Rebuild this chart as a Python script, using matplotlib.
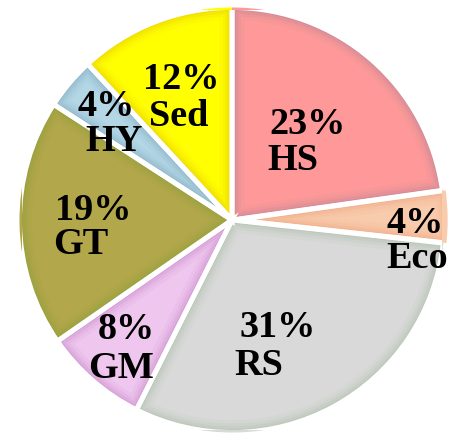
import matplotlib
matplotlib.use("Agg")
import matplotlib.pyplot as plt
from matplotlib.patches import Wedge

categories = ["HS", "Eco", "RS", "GM", "GT", "HY", "Sed"]
percents = [23, 4, 31, 8, 19, 4, 12]

colors = ["#FF9999", "#F8CBAD", "#D9D9D9", "#EEC6EE", "#B2A74A", "#B4D7E6", "#FFFF00"]
glow = ["#7F7396", "#E8875A", "#86A77E", "#A84FA8", "#6F9A2E", "#50809A", "#D69A00"]
explode = [0, 0.015, 0, 0, 0, 0, 0]

# label layout (data units relative to pie centre, radius 1): pct line, name line
pct_pos = [(0.360, 0.410), (0.872, -0.062), (0.217, -0.556), (-0.502, -0.565),
           (-0.660, -0.002), (-0.600, 0.495), (-0.240, 0.625)]
name_pos = [(0.288, 0.238), (0.880, -0.228), (0.129, -0.738), (-0.526, -0.752),
            (-0.721, -0.162), (-0.560, 0.330), (-0.255, 0.448)]

fig = plt.figure(figsize=(4.5, 4.34), dpi=100)
ax = fig.add_axes([22 / 450, 4 / 434, 420 / 450, 420 / 434])

R = 1.012
wedges, _ = ax.pie(percents, colors=colors, startangle=90, counterclock=False,
                   radius=R, explode=explode, wedgeprops=dict(edgecolor="none"))

for w, gc in zip(wedges, glow):
    for lw, a in [(18, 0.05), (13, 0.07), (9, 0.1), (5, 0.16), (2.5, 0.28)]:
        p = Wedge(w.center, w.r, w.theta1, w.theta2, facecolor="none",
                  edgecolor=gc, lw=lw, alpha=a)
        ax.add_patch(p)
        p.set_clip_path(w)
    ax.add_patch(Wedge(w.center, w.r, w.theta1, w.theta2, facecolor="none",
                       edgecolor="white", lw=3.6))

font = dict(family="Liberation Serif", weight="bold", fontsize=27.5, color="black")
for cat, pc, pp, npos in zip(categories, percents, pct_pos, name_pos):
    ax.text(pp[0], pp[1], f"{pc}%", ha="center", va="baseline", **font)
    ax.text(npos[0], npos[1], cat, ha="center", va="baseline", **font)

ax.set_xlim(-1, 1)
ax.set_ylim(-1, 1)
ax.set_aspect("auto")
ax.axis("off")

fig.savefig("out.png", dpi=100)
